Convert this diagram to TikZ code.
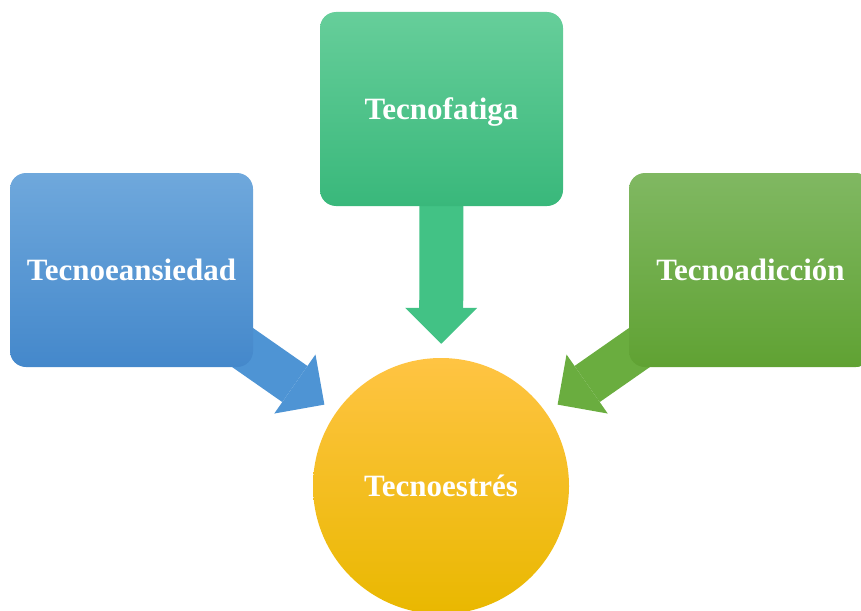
\documentclass[tikz,border=0pt]{standalone}
\usepackage{fontspec}
\setmainfont{Liberation Serif}
\usetikzlibrary{arrows.meta,backgrounds}

\definecolor{ansiedadTop}{HTML}{6FA8DC}
\definecolor{ansiedadBot}{HTML}{4488CB}
\definecolor{fatigaTop}{HTML}{66CE9A}
\definecolor{fatigaBot}{HTML}{39B87B}
\definecolor{adiccionTop}{HTML}{80B862}
\definecolor{adiccionBot}{HTML}{60A233}
\definecolor{estresTop}{HTML}{FFC443}
\definecolor{estresMid}{HTML}{FFC300}
\definecolor{estresBot}{HTML}{E9B800}
\definecolor{ansiedadArrow}{HTML}{4E94D4}
\definecolor{fatigaArrow}{HTML}{42C285}
\definecolor{adiccionArrow}{HTML}{6AAD3F}

\tikzset{
    caja/.style = {rectangle, rounded corners=16pt, minimum width=243pt,
        minimum height=194pt, text=white, inner sep=0pt,
        font=\fontsize{31}{31}\selectfont\bfseries,
        text height=21pt, text depth=0pt},
    nucleo/.style = {circle, minimum size=256pt, text=white, inner sep=0pt,
        top color=estresTop, middle color=estresMid, bottom color=estresBot,
        font=\fontsize{31}{31}\selectfont\bfseries,
        text height=21pt, text depth=0pt},
    flecha/.style = {line width=44pt, shorten >=14pt,
        -{Triangle[width=72pt, length=36pt, line width=0pt]}}
}

\begin{document}
\begin{tikzpicture}[x=1pt, y=-1pt]%
    \clip (0, 0) rectangle (861, 610);
    \node[caja, top color=ansiedadTop, bottom color=ansiedadBot] (ansiedad) at (131.5, 270) {Tecnoeansiedad};
    \node[caja, top color=fatigaTop, bottom color=fatigaBot] (fatiga) at (441.5, 109) {Tecnofatiga};
    \node[caja, top color=adiccionTop, bottom color=adiccionBot] (adiccion) at (750.5, 270) {Tecnoadicción};
    \node[nucleo] (estres) at (441, 486) {Tecnoestrés};
    % flechas por debajo de las cajas
    \begin{scope}[on background layer]
        \draw[flecha, ansiedadArrow] (ansiedad.center) -- (estres);
        \draw[flecha, fatigaArrow] (fatiga.center) -- (estres);
        \draw[flecha, adiccionArrow] (adiccion.center) -- (estres);
    \end{scope}
\end{tikzpicture}
\end{document}
